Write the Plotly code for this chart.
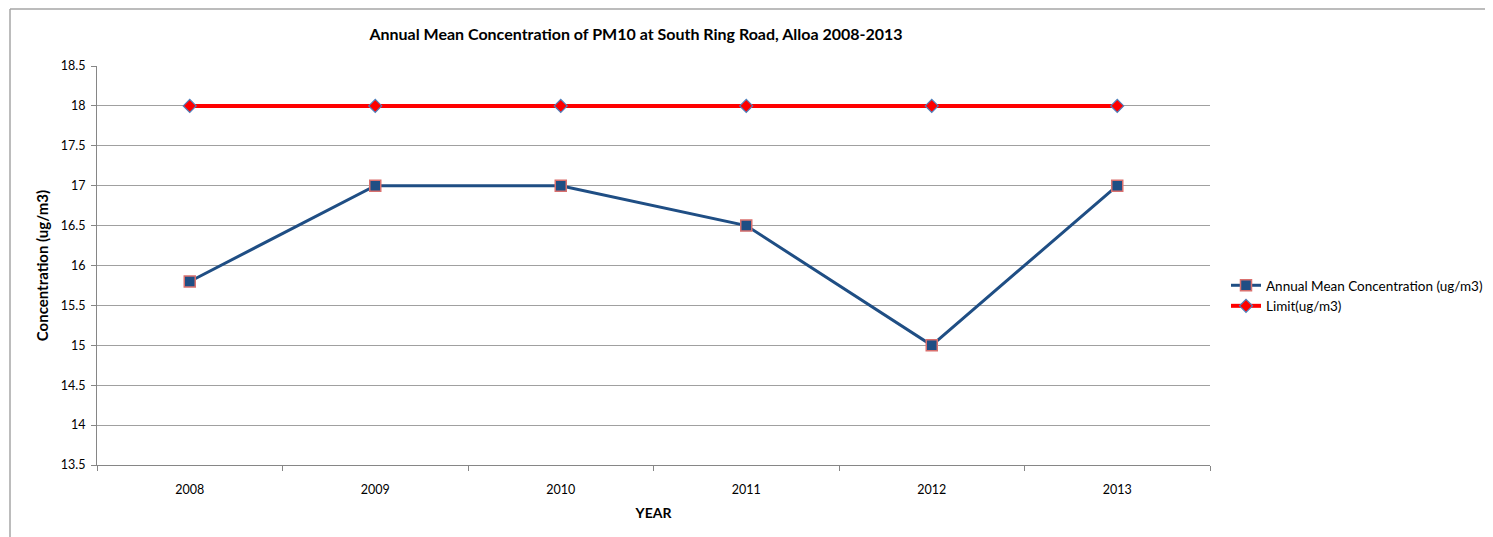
import plotly.graph_objects as go

years = ["2008", "2009", "2010", "2011", "2012", "2013"]
annual_mean = [15.8, 17.0, 17.0, 16.5, 15.0, 17.0]
limit = [18, 18, 18, 18, 18, 18]
y_ticks = [13.5, 14, 14.5, 15, 15.5, 16, 16.5, 17, 17.5, 18, 18.5]

FONT = "Lato, Carlito, Calibri, sans-serif"

fig = go.Figure()
fig.add_trace(go.Scatter(
    x=years, y=annual_mean, mode="lines+markers",
    name="Annual Mean Concentration (ug/m3)",
    line=dict(color="#1f4e84", width=3),
    marker=dict(symbol="square", size=11, color="#1f4e84",
                line=dict(color="#d9706e", width=1.5)),
))
fig.add_trace(go.Scatter(
    x=years, y=limit, mode="lines+markers",
    name="Limit(ug/m3)",
    line=dict(color="#ff0000", width=4),
    marker=dict(symbol="diamond", size=10, color="#ff0000",
                line=dict(color="#4f81bd", width=1.2)),
))

L, R, T, B = 89, 291, 58, 80
PW = 1493 - L - R
PH = 537 - T - B

fig.update_layout(
    width=1493, height=537,
    margin=dict(l=L, r=R, t=T, b=B),
    paper_bgcolor="white", plot_bgcolor="white",
    font=dict(family=FONT, size=12.5, color="black"),
    title=dict(text="<b>Annual Mean Concentration of PM10 at South Ring Road, Alloa 2008-2013</b>",
               x=(628 - L) / PW, xref="paper", xanchor="center",
               y=1 - 26 / 537, yanchor="middle",
               font=dict(family=FONT, size=16, color="black")),
    showlegend=True,
    legend=dict(x=(1226 - 8 - L) / PW, xanchor="left",
                y=(465 - 296) / PH, yref="paper", yanchor="middle",
                font=dict(family=FONT, size=13.5), tracegroupgap=4,
                bgcolor="rgba(0,0,0,0)"),
    xaxis=dict(type="category", range=[-0.5, 5.5], tickson="boundaries",
               ticks="outside", ticklen=5, tickcolor="#868686",
               ticklabelstandoff=13,
               showline=True, linecolor="#868686", linewidth=1,
               showgrid=False, zeroline=False,
               title=dict(text="<b>YEAR</b>", font=dict(family=FONT, size=14), standoff=12)),
    yaxis=dict(range=[13.5, 18.5], tickvals=y_ticks, ticktext=[f"{v:g}" for v in y_ticks],
               ticks="outside", ticklen=5, tickcolor="#868686",
               ticklabelstandoff=3,
               showline=True, linecolor="#868686", linewidth=1,
               showgrid=True, gridcolor="#a0a0a0", gridwidth=1, zeroline=False,
               title=dict(text="<b>Concentration (ug/m3)</b>", font=dict(family=FONT, size=15), standoff=8)),
)

xb = (10 - 8 - L) / PW
yb = 1 + (T - 1) / PH
fig.add_shape(type="line", xref="paper", yref="paper",
              x0=xb, x1=xb, y0=-B / PH, y1=yb,
              line=dict(color="#a6a6a6", width=1.5))
fig.add_shape(type="line", xref="paper", yref="paper",
              x0=xb, x1=1 + R / PW, y0=yb, y1=yb,
              line=dict(color="#a6a6a6", width=1.5))

fig.write_html("out.html")
